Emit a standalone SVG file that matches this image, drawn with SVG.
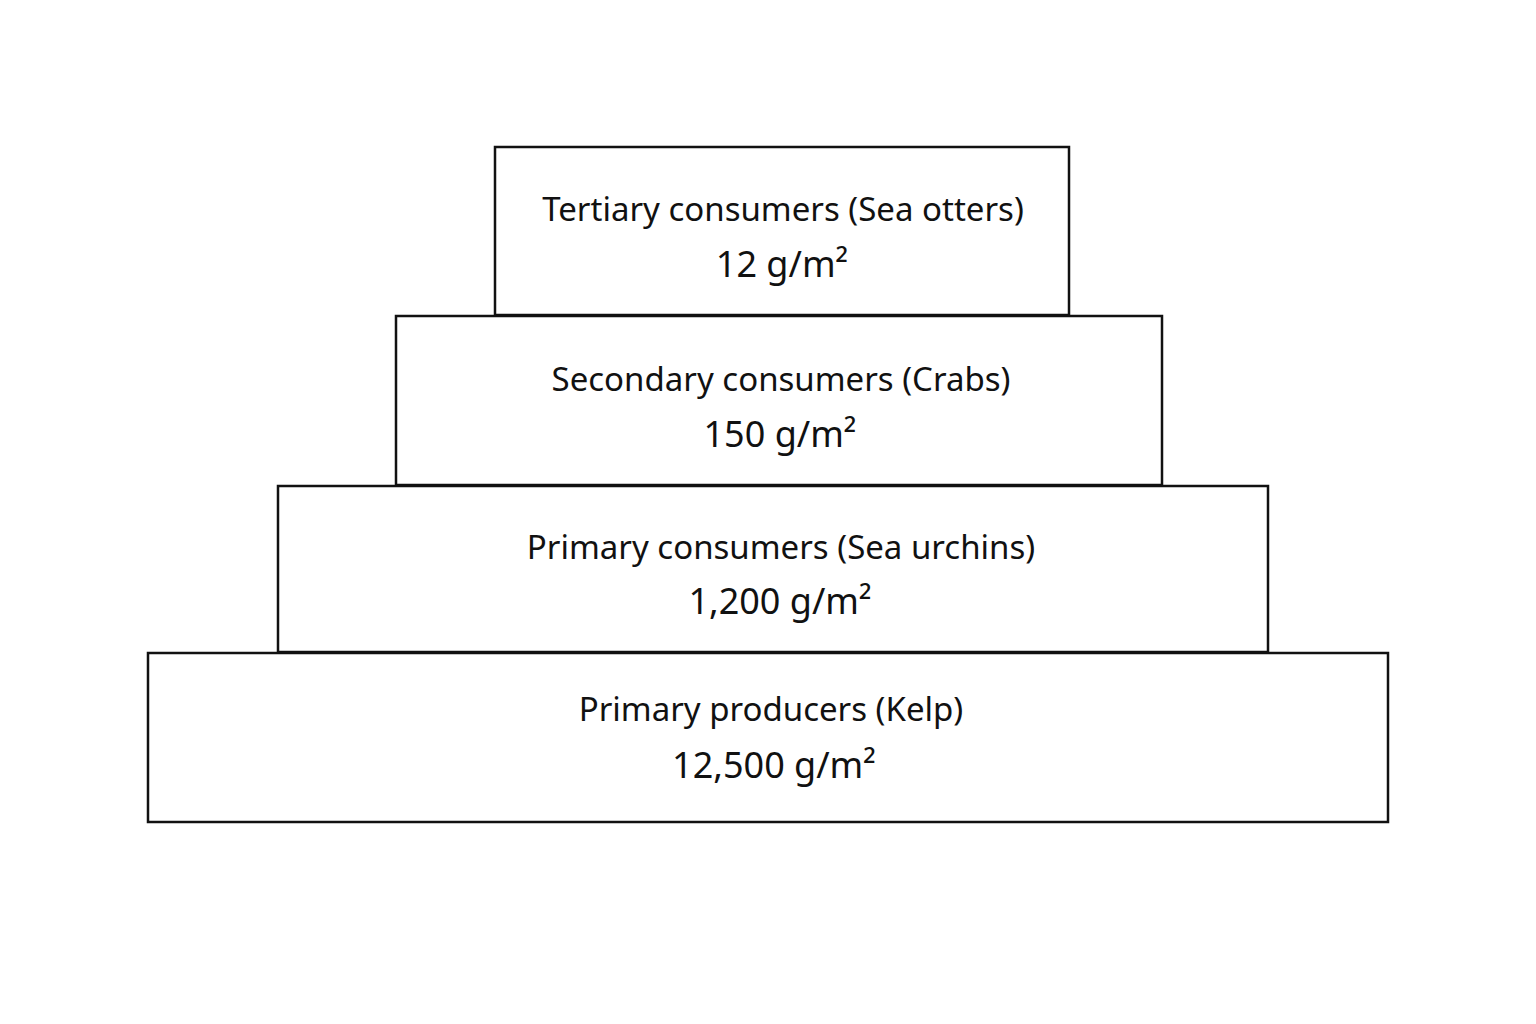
<svg xmlns="http://www.w3.org/2000/svg" width="1536" height="1024" viewBox="0 0 1536 1024">
<style>
.tier{fill:#fff;stroke:#111;stroke-width:2.5}
.lbl{font-family:"Noto Sans","Liberation Sans",sans-serif;font-size:33px;fill:#111;text-anchor:middle}
.val{font-size:36px}
</style>
<rect width="1536" height="1024" fill="#fff"/>
<g id="tier-tertiary">
<rect class="tier" x="495" y="147" width="574" height="168"/>
<text class="lbl" x="783" y="221">Tertiary consumers (Sea otters)</text>
<text class="lbl val" x="782" y="277">12 g/m²</text>
</g>
<g id="tier-secondary">
<rect class="tier" x="396" y="316" width="766" height="169"/>
<text class="lbl" x="781" y="391">Secondary consumers (Crabs)</text>
<text class="lbl val" x="780" y="447">150 g/m²</text>
</g>
<g id="tier-primary-consumers">
<rect class="tier" x="278" y="486" width="990" height="166"/>
<text class="lbl" x="781" y="559">Primary consumers (Sea urchins)</text>
<text class="lbl val" x="780" y="614">1,200 g/m²</text>
</g>
<g id="tier-producers">
<rect class="tier" x="148" y="653" width="1240" height="169"/>
<text class="lbl" x="771" y="721">Primary producers (Kelp)</text>
<text class="lbl val" x="774" y="778">12,500 g/m²</text>
</g>
<g id="connectors"></g>
</svg>
